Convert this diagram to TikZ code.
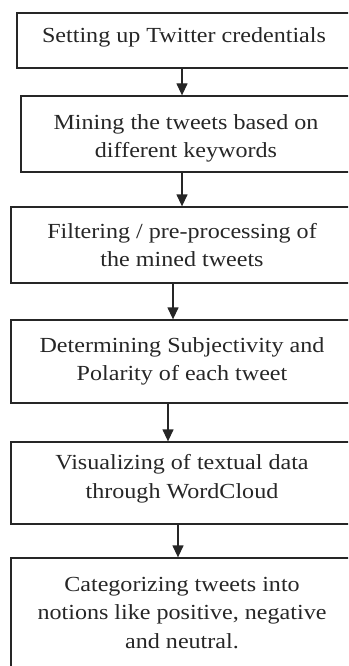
\documentclass[tikz,border=0pt]{standalone}
\usepackage{fontspec}
\setmainfont{Liberation Serif}[FakeStretch=1.12]
\usetikzlibrary{arrows.meta}
\begin{document}
\begin{tikzpicture}[x=1pt,y=-1pt,
  stepbox/.style={draw=black!85,line width=1.3pt,rectangle,inner sep=0pt,align=center,
    font=\fontsize{21.5}{28.5}\selectfont,text=black!85},
  arr/.style={draw=black!85,line width=1.3pt,-{Triangle[length=12pt,width=11pt]}}]
\useasboundingbox (0,0) rectangle (348,666);
\clip (0,0) rectangle (348,666);
\node[stepbox,minimum width=334pt,minimum height=55pt,text depth=10.7pt] (b1) at (184,40.5) {Setting up Twitter credentials};
\node[stepbox,minimum width=330pt,minimum height=76pt,text height=52pt] (b2) at (186,134) {Mining the tweets based on\\different keywords};
\node[stepbox,minimum width=342pt,minimum height=76pt] (b3) at (182,245) {Filtering / pre-processing of\\the mined tweets};
\node[stepbox,minimum width=342pt,minimum height=83pt] (b4) at (182,361.5) {Determining Subjectivity and\\Polarity of each tweet};
\node[stepbox,minimum width=342pt,minimum height=82pt,text depth=12.7pt] (b5) at (182,483) {Visualizing of textual data\\through WordCloud};
\node[stepbox,minimum width=342pt,minimum height=110pt] (b6) at (182,613) {Categorizing tweets into\\notions like positive, negative\\and neutral.};
\draw[arr] ([xshift=-2pt]b1.south) -- ([xshift=-2pt]b1.south |- b2.north);
\draw[arr] ([xshift=-4pt]b2.south) -- ([xshift=-4pt]b2.south |- b3.north);
\draw[arr] ([xshift=-9pt]b3.south) -- ([xshift=-9pt]b3.south |- b4.north);
\draw[arr] ([xshift=-14pt]b4.south) -- ([xshift=-14pt]b4.south |- b5.north);
\draw[arr] ([xshift=-4pt]b5.south) -- ([xshift=-4pt]b5.south |- b6.north);
\end{tikzpicture}
\end{document}
